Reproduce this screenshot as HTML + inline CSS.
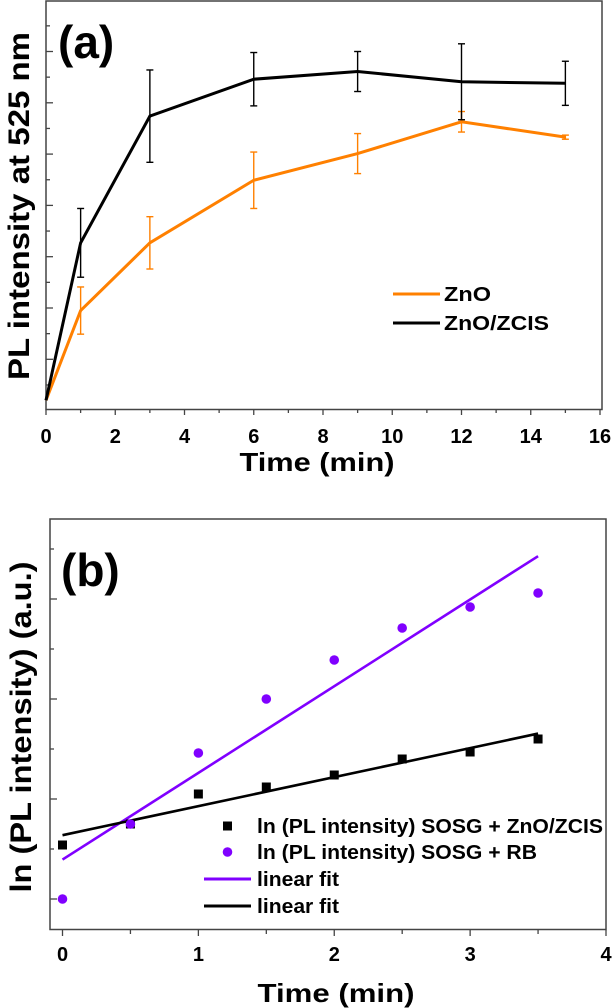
<!DOCTYPE html>
<html><head><meta charset="utf-8"><style>
html,body{margin:0;padding:0;background:#fff;}
svg{display:block;font-family:"Liberation Sans",Arial,sans-serif;font-weight:bold;}
</style></head><body>
<svg id="s" width="616" height="1008" viewBox="0 0 616 1008" xmlns="http://www.w3.org/2000/svg">
<g id="ga"></g>
<g id="gb"></g>
</svg>
<script>
// ---- Chart (a) data ----
const timesA = [0, 1, 3, 6, 9, 12, 15];
const znoValues = [0.2, 1.95, 3.27, 4.49, 5.01, 5.63, 5.33];
const znoErrors = [0, 0.46, 0.51, 0.55, 0.39, 0.2, 0.04];
const zcisValues = [0.2, 3.27, 5.74, 6.46, 6.61, 6.41, 6.38];
const zcisErrors = [0, 0.67, 0.9, 0.52, 0.39, 0.74, 0.43];
const xTicksA = [0, 2, 4, 6, 8, 10, 12, 14, 16];
// ---- Chart (b) data ----
const timesB = [0, 0.5, 1, 1.5, 2, 2.5, 3, 3.5];
const rbValues = [0, 0.75, 1.46, 2.0, 2.39, 2.71, 2.92, 3.06];
const zcisLnValues = [0.54, 0.75, 1.05, 1.12, 1.24, 1.4, 1.47, 1.6];
const xTicksB = [0, 1, 2, 3, 4];

const NS = "http://www.w3.org/2000/svg";
function mk(parent, tag, attrs, text) {
  const e = document.createElementNS(NS, tag);
  for (const k in attrs) e.setAttribute(k, attrs[k]);
  if (text !== undefined) e.textContent = text;
  parent.appendChild(e);
  return e;
}
const ga = document.getElementById('ga');
const gb = document.getElementById('gb');

// ---- Chart (a) ----
const xA = t => 46 + t * (600 - 46) / 16;
const yA = v => 410.6 - v * 51.3;
let e;
e = mk(ga, 'rect', {x: 46, y: 1, width: 556, height: 408.5, fill: 'none', stroke: '#444', 'stroke-width': 1.5});


for (let i = 0; i <= 15; i++) {
  const yy = 410.6 - i * 25.65;
  if (yy < 5 || yy > 409) continue;
  e = mk(ga, 'line', {x1: 46, x2: i % 2 === 0 ? 53 : 50, y1: yy, y2: yy, stroke: '#444', 'stroke-width': 1.3});
  
  
}
for (let t = 0; t <= 16; t++) {
  e = mk(ga, 'line', {x1: xA(t), x2: xA(t), y1: 409.5, y2: t % 2 === 0 ? 415 : 413, stroke: '#444', 'stroke-width': 1.3});
  
  
}
xTicksA.forEach(t => {
  e = mk(ga, 'text', {x: xA(t), y: 443, 'text-anchor': 'middle', 'font-size': 20}, String(t));
  
  
});
function seriesA(vals, errs, color, name) {
  const pts = timesA.map((t, i) => xA(t) + ',' + yA(vals[i])).join(' ');
  timesA.forEach((t, i) => {
    if (!errs[i]) return;
    const x = xA(t), y1 = yA(vals[i] + errs[i]), y2 = yA(vals[i] - errs[i]);
    const g = mk(ga, 'g', {stroke: color, 'stroke-width': 1.4});
    
    
    mk(g, 'line', {x1: x, x2: x, y1: y1, y2: y2});
    mk(g, 'line', {x1: x - 3.5, x2: x + 3.5, y1: y1, y2: y1});
    mk(g, 'line', {x1: x - 3.5, x2: x + 3.5, y1: y2, y2: y2});
  });
  const p = mk(ga, 'polyline', {points: pts, fill: 'none', stroke: color, 'stroke-width': 3});
  
  
}
seriesA(znoValues, znoErrors, '#ff8000', 'zno');
seriesA(zcisValues, zcisErrors, '#000', 'zno-zcis');
e = mk(ga, 'line', {x1: 393, x2: 440, y1: 294, y2: 294, stroke: '#ff8000', 'stroke-width': 3});


e = mk(ga, 'text', {x: 444, y: 301, 'font-size': 20, textLength: 47, lengthAdjust: 'spacingAndGlyphs'}, 'ZnO');


e = mk(ga, 'line', {x1: 393, x2: 440, y1: 323, y2: 323, stroke: '#000', 'stroke-width': 3});


e = mk(ga, 'text', {x: 444, y: 330, 'font-size': 20, textLength: 105, lengthAdjust: 'spacingAndGlyphs'}, 'ZnO/ZCIS');


e = mk(ga, 'text', {x: 58, y: 58, 'font-size': 46}, '(a)');


e = mk(ga, 'text', {x: 0, y: 0, 'font-size': 30, 'text-anchor': 'middle', textLength: 348, lengthAdjust: 'spacingAndGlyphs', transform: 'translate(29,206) rotate(-90)'}, 'PL intensity at 525 nm');


e = mk(ga, 'text', {x: 317, y: 471, 'font-size': 26, 'text-anchor': 'middle', textLength: 155, lengthAdjust: 'spacingAndGlyphs'}, 'Time (min)');



// ---- Chart (b) ----
const xB = t => 62.5 + t * (606 - 62.5) / 4;
const yB = v => 899 - v * 100;
e = mk(gb, 'rect', {x: 50, y: 519, width: 556, height: 410.5, fill: 'none', stroke: '#444', 'stroke-width': 1.5});


for (let i = 0; i < 8; i++) {
  const yy = 899 - i * 50;
  e = mk(gb, 'line', {x1: 50, x2: i % 2 === 0 ? 57 : 54, y1: yy, y2: yy, stroke: '#444', 'stroke-width': 1.3});
  
  
}
for (let k = 0; k <= 8; k++) {
  const t = k / 2;
  e = mk(gb, 'line', {x1: xB(t), x2: xB(t), y1: 930, y2: k % 2 === 0 ? 936 : 934, stroke: '#444', 'stroke-width': 1.3});
  
  
}
xTicksB.forEach(t => {
  e = mk(gb, 'text', {x: xB(t), y: 961, 'text-anchor': 'middle', 'font-size': 20}, String(t));
  
  
});
function fit(xs, ys) {
  const n = xs.length, mx = xs.reduce((a, b) => a + b) / n, my = ys.reduce((a, b) => a + b) / n;
  let sxy = 0, sxx = 0;
  for (let i = 0; i < n; i++) { sxy += (xs[i] - mx) * (ys[i] - my); sxx += (xs[i] - mx) ** 2; }
  const m = sxy / sxx; return [m, my - m * mx];
}
const fRB = fit(timesB, rbValues), fZ = fit(timesB, zcisLnValues);
const t0 = timesB[0], t1 = timesB[timesB.length - 1];
e = mk(gb, 'line', {x1: xB(t0), x2: xB(t1), y1: yB(fRB[1] + fRB[0] * t0), y2: yB(fRB[1] + fRB[0] * t1), stroke: '#8000ff', 'stroke-width': 2.6});


e = mk(gb, 'line', {x1: xB(t0), x2: xB(t1), y1: yB(fZ[1] + fZ[0] * t0), y2: yB(fZ[1] + fZ[0] * t1), stroke: '#000', 'stroke-width': 2.6});


timesB.forEach((t, i) => {
  e = mk(gb, 'rect', {x: xB(t) - 4.5, y: yB(zcisLnValues[i]) - 4.5, width: 9, height: 9, fill: '#000'});
  
  
  e = mk(gb, 'circle', {cx: xB(t), cy: yB(rbValues[i]), r: 4.8, fill: '#8000ff'});
  
  
});
e = mk(gb, 'rect', {x: 223, y: 821.5, width: 9, height: 9, fill: '#000'});


e = mk(gb, 'text', {x: 257, y: 833, 'font-size': 20, textLength: 346, lengthAdjust: 'spacingAndGlyphs'}, 'ln (PL intensity) SOSG + ZnO/ZCIS');


e = mk(gb, 'circle', {cx: 227.5, cy: 852, r: 4.8, fill: '#8000ff'});


e = mk(gb, 'text', {x: 257, y: 859, 'font-size': 20, textLength: 280, lengthAdjust: 'spacingAndGlyphs'}, 'ln (PL intensity) SOSG + RB');


e = mk(gb, 'line', {x1: 204, x2: 251, y1: 879, y2: 879, stroke: '#8000ff', 'stroke-width': 3});


e = mk(gb, 'text', {x: 257, y: 886, 'font-size': 20, textLength: 82, lengthAdjust: 'spacingAndGlyphs'}, 'linear fit');


e = mk(gb, 'line', {x1: 204, x2: 251, y1: 906, y2: 906, stroke: '#000', 'stroke-width': 3});


e = mk(gb, 'text', {x: 257, y: 913, 'font-size': 20, textLength: 82, lengthAdjust: 'spacingAndGlyphs'}, 'linear fit');


e = mk(gb, 'text', {x: 61, y: 586, 'font-size': 46}, '(b)');


e = mk(gb, 'text', {x: 0, y: 0, 'font-size': 30, 'text-anchor': 'middle', textLength: 331, lengthAdjust: 'spacingAndGlyphs', transform: 'translate(31,727) rotate(-90)'}, 'ln (PL intensity) (a.u.)');


e = mk(gb, 'text', {x: 336, y: 1002, 'font-size': 26, 'text-anchor': 'middle', textLength: 157, lengthAdjust: 'spacingAndGlyphs'}, 'Time (min)');


</script>
</body></html>
